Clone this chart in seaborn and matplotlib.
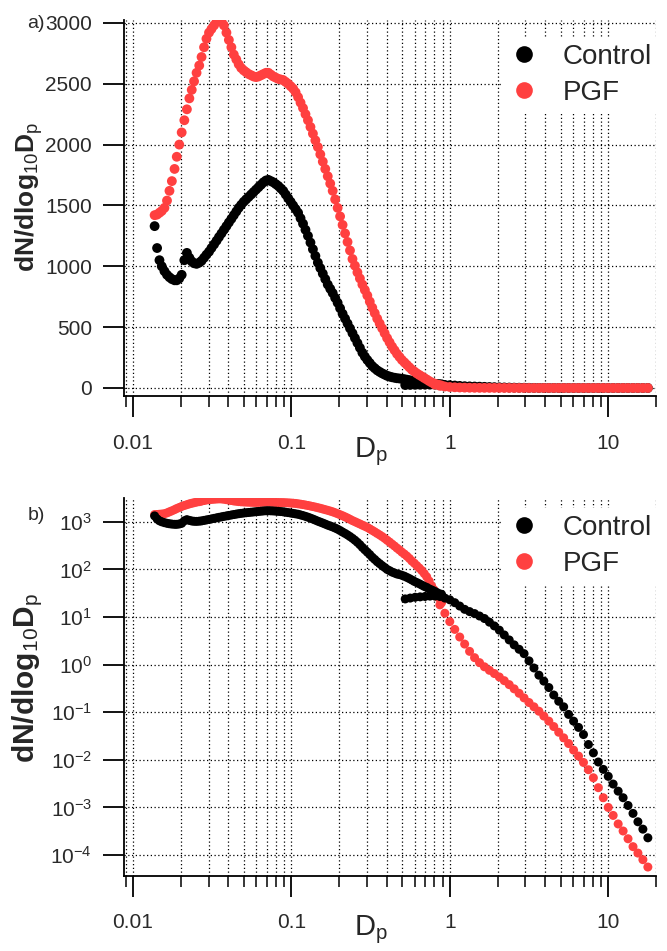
"""Particle size distributions, Control vs PGF, linear and log scale."""

import matplotlib

matplotlib.use("Agg")
import matplotlib.pyplot as plt
import matplotlib.ticker as mticker
import pandas as pd
import seaborn as sns
from matplotlib.lines import Line2D

# mobility sizer channels (um)
smps_dp = [0.0137, 0.0142, 0.0147, 0.0152, 0.0158, 0.0164, 0.0170, 0.0176, 0.0183, 0.0189,
           0.0196, 0.0203, 0.0211, 0.0219, 0.0227, 0.0235, 0.0243, 0.0252, 0.0262, 0.0271,
           0.0281, 0.0291, 0.0302, 0.0313, 0.0325, 0.0337, 0.0349, 0.0362, 0.0375, 0.0389,
           0.0403, 0.0418, 0.0433, 0.0449, 0.0465, 0.0482, 0.0500, 0.0518, 0.0537, 0.0557,
           0.0577, 0.0598, 0.0620, 0.0643, 0.0666, 0.0691, 0.0716, 0.0742, 0.0769, 0.0798,
           0.0827, 0.0857, 0.0888, 0.0920, 0.0954, 0.0989, 0.1025, 0.1063, 0.1102, 0.1142,
           0.1184, 0.1227, 0.1272, 0.1319, 0.1367, 0.1417, 0.1469, 0.1522, 0.1578, 0.1636,
           0.1696, 0.1758, 0.1822, 0.1889, 0.1958, 0.2029, 0.2104, 0.2181, 0.2261, 0.2343,
           0.2429, 0.2518, 0.2610, 0.2706, 0.2805, 0.2908, 0.3014, 0.3124, 0.3239, 0.3357,
           0.3480, 0.3607, 0.3739, 0.3876, 0.4018, 0.4165, 0.4318, 0.4476, 0.4640, 0.4809,
           0.4985, 0.5168, 0.5357, 0.5553, 0.5756, 0.5967, 0.6185, 0.6412, 0.6646, 0.6890,
           0.7142, 0.7403, 0.7674, 0.7955, 0.8246, 0.8548, 0.8861]
control_smps = [1330, 1150, 1050, 1000, 960, 930, 910, 895, 885, 885,
                900, 930, 1050, 1110, 1070, 1040, 1025, 1020, 1030, 1045,
                1070, 1095, 1120, 1150, 1180, 1210, 1240, 1270, 1300, 1330,
                1360, 1390, 1420, 1450, 1480, 1505, 1530, 1550, 1570, 1590,
                1610, 1630, 1650, 1670, 1690, 1705, 1710, 1700, 1690, 1675,
                1660, 1640, 1620, 1590, 1560, 1530, 1500, 1470, 1440, 1395,
                1350, 1300, 1250, 1195, 1140, 1085, 1030, 985, 940, 895,
                850, 815, 780, 740, 700, 655, 610, 570, 530, 490,
                450, 410, 370, 330, 290, 258, 230, 205, 180, 162,
                145, 132, 120, 110, 100, 94, 88, 84, 80, 78,
                75, 72, 68, 64, 60, 56, 53, 50, 47, 44,
                42, 39, 37, 35, 33, 31, 30]
pgf_smps = [1420, 1425, 1440, 1455, 1480, 1540, 1620, 1700, 1800, 1900,
            2000, 2100, 2200, 2290, 2380, 2450, 2520, 2590, 2650, 2720,
            2800, 2870, 2920, 2950, 2980, 3010, 3030, 3020, 2980, 2920,
            2860, 2800, 2740, 2700, 2660, 2630, 2610, 2595, 2580, 2570,
            2560, 2555, 2560, 2570, 2580, 2590, 2590, 2575, 2560, 2550,
            2540, 2535, 2530, 2515, 2500, 2480, 2460, 2430, 2390, 2345,
            2300, 2250, 2200, 2145, 2090, 2035, 1980, 1920, 1860, 1800,
            1740, 1680, 1620, 1550, 1480, 1410, 1340, 1270, 1200, 1130,
            1060, 1005, 950, 900, 850, 805, 760, 710, 660, 615,
            570, 530, 490, 450, 410, 375, 340, 310, 280, 255,
            230, 210, 190, 170, 150, 135, 120, 107, 95, 82,
            70, 57, 45, 37, 30, 25, 20]

# aerodynamic sizer channels (um)
aps_dp = [0.523, 0.562, 0.604, 0.649, 0.697, 0.749, 0.805, 0.865, 0.930, 0.999,
          1.074, 1.154, 1.240, 1.332, 1.432, 1.539, 1.653, 1.777, 1.909, 2.052,
          2.205, 2.369, 2.546, 2.736, 2.940, 3.159, 3.395, 3.648, 3.920, 4.213,
          4.527, 4.865, 5.228, 5.618, 6.037, 6.487, 6.971, 7.491, 8.050, 8.651,
          9.296, 9.990, 10.73, 11.54, 12.40, 13.32, 14.32, 15.38, 16.53, 17.77]
control_aps = [24, 25, 26, 26.5, 27, 27.5, 27.5, 27, 25, 23,
               20, 17, 14.5, 13, 11.8, 10.5, 9.3, 7.8, 6.5, 5.3,
               4.2, 3.3, 2.6, 2.1, 1.7, 1.2, 0.85, 0.6, 0.45, 0.33,
               0.23, 0.17, 0.13, 0.09, 0.065, 0.048, 0.034, 0.021, 0.014, 0.009,
               0.0063, 0.0045, 0.0031, 0.0022, 0.0016, 0.0011, 0.00075, 0.0005, 0.00035, 0.00023]
pgf_aps_dp = aps_dp[6:]
pgf_aps = [28, 18, 12, 8, 5.5, 3.8, 2.7, 1.9, 1.4, 1.1,
           0.9, 0.76, 0.65, 0.55, 0.46, 0.38, 0.31, 0.25, 0.2, 0.16,
           0.13, 0.105, 0.083, 0.065, 0.05, 0.038, 0.029, 0.022, 0.016, 0.012,
           0.0088, 0.0062, 0.0042, 0.0026, 0.0016, 0.001, 0.00068, 0.00045, 0.00032, 0.00022,
           0.00015, 0.00011, 0.00008, 0.000056]

groups = ["Control", "PGF"]
colors = {"Control": "#000000", "PGF": "#FF4040"}
x_ticks = [0.01, 0.1, 1, 10]
x_ticklabels = ["0.01", "0.1", "1", "10"]
lin_yticks = [0, 500, 1000, 1500, 2000, 2500, 3000]
log_yticks = [1e-4, 1e-3, 1e-2, 1e-1, 1e0, 1e1, 1e2, 1e3]


def frame(dp, values, name):
    return pd.DataFrame({"Dp": dp, "dN": values, "sample": name})


control = pd.concat([frame(smps_dp, control_smps, "Control"), frame(aps_dp, control_aps, "Control")])
pgf = pd.concat([frame(smps_dp, pgf_smps, "PGF"), frame(pgf_aps_dp, pgf_aps, "PGF")])

sns.set_style("ticks")
plt.rcParams["font.family"] = ["Liberation Sans", "DejaVu Sans"]
plt.rcParams["mathtext.fontset"] = "custom"
plt.rcParams["mathtext.rm"] = "Liberation Sans"
plt.rcParams["mathtext.it"] = "Liberation Sans:italic"
plt.rcParams["mathtext.bf"] = "Liberation Sans:bold"

W, H = 667, 951
fig = plt.figure(figsize=(W / 100, H / 100), dpi=100)
ax_a = fig.add_axes([124 / W, 1 - 396 / H, 532 / W, 376 / H])
ax_b = fig.add_axes([124 / W, 1 - 876 / H, 532 / W, 378 / H])

# panel a: PGF drawn over Control; panel b: Control on top
sns.scatterplot(data=pd.concat([control, pgf]), x="Dp", y="dN", hue="sample", hue_order=groups,
                palette=colors, s=50, linewidth=0, legend=False, ax=ax_a)
sns.scatterplot(data=pd.concat([pgf, control]), x="Dp", y="dN", hue="sample", hue_order=groups,
                palette=colors, s=42, linewidth=0, legend=False, ax=ax_b)

grid_kw = dict(color="black", linestyle=(0, (1, 2)), linewidth=0.9)
ylabel = r"dN/dlog$_{\mathrm{10}}$D$_{\mathrm{p}}$"
for ax, label_size in ((ax_a, 19), (ax_b, 21.5)):
    ax.set_xscale("log")
    ax.set_xlim(0.00878, 20.0)
    ax.xaxis.set_major_locator(mticker.FixedLocator(x_ticks))
    ax.xaxis.set_major_formatter(mticker.FixedFormatter(x_ticklabels))
    ax.xaxis.set_minor_locator(mticker.LogLocator(base=10, subs=range(2, 10), numticks=20))
    ax.xaxis.set_minor_formatter(mticker.NullFormatter())
    ax.grid(True, which="both", axis="x", **grid_kw)
    ax.grid(True, which="major", axis="y", **grid_kw)
    ax.set_axisbelow(True)
    for side in ("top", "right"):
        ax.spines[side].set_visible(False)
    for side in ("left", "bottom"):
        ax.spines[side].set_linewidth(1.3)
        ax.spines[side].set_color("black")
    ax.tick_params(axis="both", which="major", length=15, width=1.3, color="black",
                   labelsize=15, labelcolor="#2a2a2a")
    ax.tick_params(axis="x", which="major", pad=12)
    ax.tick_params(axis="y", which="major", pad=8)
    ax.tick_params(axis="x", which="minor", length=8, width=1.1, color="black")
    ax.set_xlabel(r"D$_{\mathrm{p}}$", fontsize=21)
    ax.set_ylabel(ylabel, fontsize=label_size, fontweight="bold")

ax_a.set_ylim(-66, 3024)
ax_a.yaxis.set_major_locator(mticker.FixedLocator(lin_yticks))
ax_a.xaxis.set_label_coords(0.465, -0.105)
ax_a.yaxis.set_label_coords(-0.148, 0.529)

ax_b.set_yscale("log")
ax_b.set_ylim(10 ** -4.44, 10 ** 3.5)
ax_b.yaxis.set_major_locator(mticker.FixedLocator(log_yticks))
ax_b.yaxis.set_major_formatter(mticker.LogFormatterMathtext())
ax_b.yaxis.set_minor_locator(mticker.NullLocator())
ax_b.xaxis.set_label_coords(0.465, -0.1)
ax_b.yaxis.set_label_coords(-0.148, 0.524)

handles = [Line2D([], [], marker="o", linestyle="", markersize=12, markeredgewidth=0,
                  color=colors[g]) for g in groups]
for ax, top in ((ax_a, 37), (ax_b, 508)):
    ax.legend(handles, groups, loc="upper left", bbox_to_anchor=(503 / W, 1 - top / H),
              bbox_transform=fig.transFigure, fontsize=20, frameon=True, fancybox=False,
              facecolor="white", edgecolor="none", framealpha=1, borderpad=0.25,
              borderaxespad=0, handlelength=1.0, handletextpad=0.9, labelspacing=0.35)

fig.text(27 / W, 1 - 24 / H, "a)", fontsize=14, va="center", color="#2a2a2a")
fig.text(28 / W, 1 - 515 / H, "b)", fontsize=14, va="center", color="#2a2a2a")

fig.savefig("out.png", dpi=100)
plt.close(fig)
